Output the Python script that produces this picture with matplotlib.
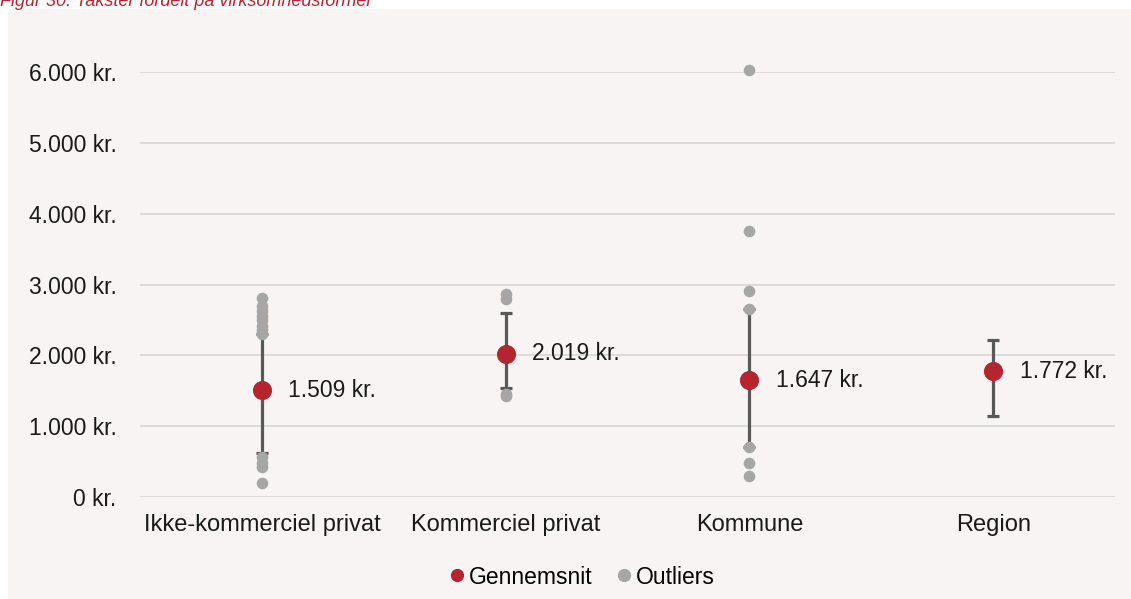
import matplotlib.pyplot as plt
from matplotlib.patches import Rectangle
from matplotlib.lines import Line2D

plt.rcParams['font.family'] = ['Liberation Sans', 'DejaVu Sans']

# Data
categories = ['Ikke-kommerciel privat', 'Kommerciel privat', 'Kommune', 'Region']
means = [1509, 2019, 1647, 1772]
err_low = [620, 1540, 710, 1150]
err_high = [2300, 2600, 2650, 2210]
outliers = [
    [2810, 2700, 2620, 2560, 2500, 2420, 2360, 2300, 560, 480, 420, 200],
    [2870, 2800, 1450, 1420],
    [6030, 3760, 2915, 2650, 710, 480, 290],
    [],
]
yticks = [0, 1000, 2000, 3000, 4000, 5000, 6000]

red = '#B5252F'
grey = '#A6A6A6'
dark = '#595959'
bg = '#F7F4F3'


def kr(v):
    return f'{v:,.0f}'.replace(',', '.') + ' kr.'


fig = plt.figure(figsize=(11.31, 5.99), dpi=100)
fig.patch.set_facecolor('white')
fig.patches.append(Rectangle((8 / 1131, 0), 1 - 8 / 1131, 1 - 9 / 599,
                             transform=fig.transFigure, facecolor=bg,
                             edgecolor='none', zorder=-10))
fig.text(0.0, 1.0, 'Figur 30: Takster fordelt på virksomhedsformer', color=red,
         style='italic', fontsize=13, ha='left', va='center')

ax = fig.add_axes([140 / 1131, 102 / 599, 975 / 1131, 425 / 599])
ax.set_facecolor('none')

x = list(range(len(categories)))
for i in x:
    ax.errorbar(i, means[i], yerr=[[means[i] - err_low[i]], [err_high[i] - means[i]]],
                fmt='none', ecolor=dark, elinewidth=2.3, capsize=4.5, capthick=2.3, zorder=2)
    ax.scatter([i] * len(outliers[i]), outliers[i], s=70, color=grey, zorder=3,
               clip_on=False, linewidths=0)
    ax.annotate(kr(means[i]), (i, means[i]), xytext=(19, 0), textcoords='offset points',
                ha='left', va='center', fontsize=16.5, color='#1a1a1a')

ax.scatter(x, means, s=190, color=red, zorder=4, linewidths=0)

ax.set_xlim(-0.5, 3.5)
ax.set_ylim(0, 6000)
ax.set_xticks(x)
ax.set_xticklabels(categories)
ax.set_yticks(yticks)
ax.set_yticklabels([kr(v) for v in yticks])
ax.tick_params(axis='both', length=0, labelsize=16.5, labelcolor='#1a1a1a')
ax.tick_params(axis='x', pad=12, labelsize=17)
ax.tick_params(axis='y', pad=17)
ax.grid(axis='y', color='#D9D9D9', linewidth=1.3)
ax.set_axisbelow(True)
for s in ax.spines.values():
    s.set_visible(False)

handles = [
    Line2D([], [], marker='o', linestyle='none', color=red, markersize=8.5),
    Line2D([], [], marker='o', linestyle='none', color=grey, markersize=8.5),
]
fig.legend(handles, ['Gennemsnit', 'Outliers'], loc='center',
           bbox_to_anchor=(580 / 1131, 1 - 577 / 599), ncol=2, frameon=False,
           fontsize=16.5, handletextpad=0.0, columnspacing=0.9, handlelength=1.0)

fig.savefig('out.png', dpi=100, facecolor=fig.get_facecolor())
